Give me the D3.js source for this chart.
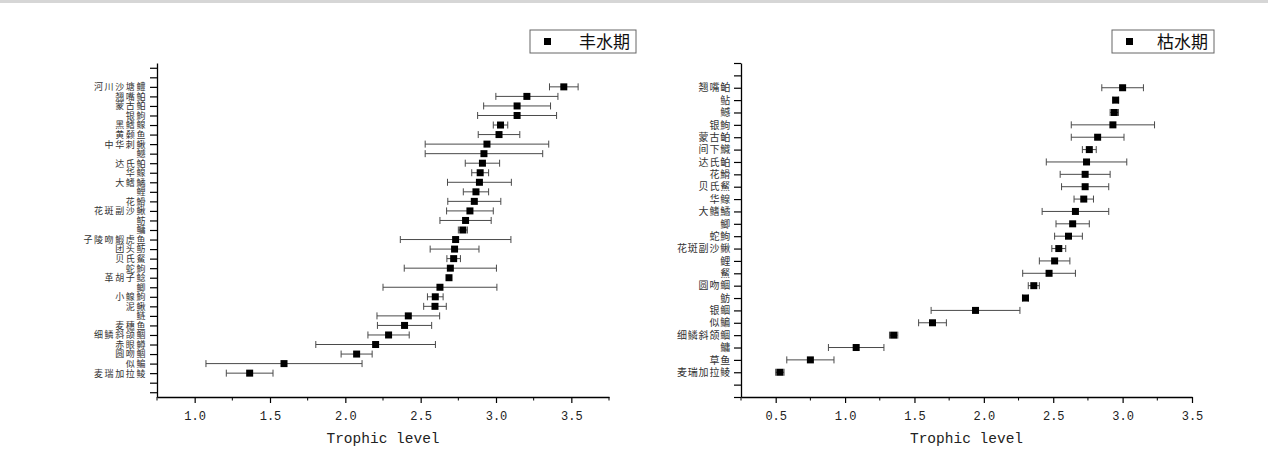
<!DOCTYPE html>
<html>
<head>
<meta charset="utf-8">
<script src="https://cdn.jsdelivr.net/npm/d3@7"></script>
<style>
  body { margin: 0; background: #fff; }
  svg { display: block; }
</style>
</head>
<body>
<svg id="chart" width="1268" height="470"></svg>
<script>
// wet season (丰水期), top to bottom
const wetSpecies = ["河川沙塘鳢","翘嘴鲌","蒙古鲌","银鮈","黑鳍鳈","黄颡鱼","中华刺鳅","鳡","达氏鲌","华鳈","大鳍鱊","鲤","花䱻","花斑副沙鳅","鲂","鳙","子陵吻鰕虎鱼","团头鲂","贝氏䱗","蛇鮈","革胡子鲶","鲫","小鳈鮈","泥鳅","鲢","麦穗鱼","细鳞斜颌鲴","赤眼鳟","圆吻鲴","似鳊","麦瑞加拉鲮"];
const wetMean = [3.45,3.205,3.14,3.14,3.03,3.02,2.94,2.92,2.91,2.895,2.89,2.867,2.856,2.827,2.798,2.78,2.732,2.725,2.719,2.697,2.688,2.628,2.597,2.595,2.418,2.393,2.287,2.201,2.075,1.593,1.365];
const wetErr  = [0.095,0.206,0.222,0.262,0.048,0.138,0.41,0.39,0.114,0.056,0.212,0.084,0.176,0.155,0.17,0.03,0.367,0.162,0.045,0.306,0,0.378,0.052,0.075,0.208,0.18,0.137,0.397,0.103,0.518,0.155];

// dry season (枯水期), top to bottom
const drySpecies = ["翘嘴鲌","鲇","鳡","银鮈","蒙古鲌","间下鱵","达氏鲌","花䱻","贝氏䱗","华鳈","大鳍鱊","鲫","蛇鮈","花斑副沙鳅","鲤","䱗","圆吻鲴","鲂","银鲴","似鳊","细鳞斜颌鲴","鳙","草鱼","麦瑞加拉鲮"];
const dryMean = [3.0,2.95,2.94,2.93,2.82,2.76,2.74,2.73,2.73,2.72,2.66,2.64,2.61,2.54,2.51,2.47,2.36,2.30,1.94,1.63,1.35,1.08,0.75,0.53];
const dryErr  = [0.15,0.02,0.03,0.30,0.19,0.05,0.29,0.18,0.17,0.07,0.24,0.12,0.10,0.05,0.11,0.19,0.04,0.02,0.32,0.10,0.03,0.20,0.17,0.03];

const xTicks = [0.5,1.0,1.5,2.0,2.5,3.0,3.5];
const legendNames = ["丰水期","枯水期"];

const svg = d3.select("#chart");
const cjk = "'Noto Sans CJK SC', sans-serif";
const mono = "'Liberation Mono', 'DejaVu Sans Mono', monospace";

// thin grey strip at the top like the screenshot frame
svg.append("rect").attr("x",0).attr("y",0).attr("width",1268).attr("height",3).attr("fill","#d6d6d6");

function drawPanel(opt){
  const g = svg.append("g");
  const n = opt.species.length;

  const x = d3.scaleLinear().domain(opt.xDomain).range([opt.left, opt.right]);
  const y = d3.scaleLinear().domain(opt.yDomain).range([opt.bottom, opt.top]);

  // index 1 = bottom species, n = top species
  const rows = opt.species.map((s,i) => ({name:s, mean:opt.mean[i], err:opt.err[i], idx:n-i}));

  // x axis, major + minor ticks
  const majors = xTicks.filter(t => t >= opt.xDomain[0] && t <= opt.xDomain[1]);
  const minors = d3.range(opt.xDomain[0], opt.xDomain[1]+0.001, 0.25).filter(t => !majors.some(m => Math.abs(m-t) < 1e-6));

  const xAxis = g.append("g").attr("transform", `translate(0,${opt.bottom})`)
    .call(d3.axisBottom(x).tickValues(majors).tickSize(6).tickSizeOuter(0).tickPadding(8).tickFormat(d3.format(".1f")));
  xAxis.select(".domain").attr("stroke","#000").attr("stroke-width",1.3);
  xAxis.selectAll("text").attr("font-family", mono).attr("font-size", 12).attr("fill","#222");
  xAxis.selectAll(".tick line").attr("stroke","#000").attr("stroke-width",1.2);

  g.append("g").attr("transform", `translate(0,${opt.bottom})`)
    .selectAll("line").data(minors).join("line")
    .attr("x1", d => x(d)).attr("x2", d => x(d)).attr("y1", 0).attr("y2", 3.5)
    .attr("stroke","#000").attr("stroke-width",1);

  // y axis: ticks at each integer position, labels only for species
  const yTicks = d3.range(Math.ceil(opt.yDomain[0]), Math.floor(opt.yDomain[1])+1);
  const labelOf = {};
  rows.forEach(r => labelOf[r.idx] = r.name);
  const yAxis = g.append("g").attr("transform", `translate(${opt.left},0)`)
    .call(d3.axisLeft(y).tickValues(yTicks).tickSize(7).tickSizeOuter(0).tickPadding(3).tickFormat(d => labelOf[d] || ""));
  yAxis.select(".domain").attr("stroke","#000").attr("stroke-width",1.3);
  yAxis.selectAll(".tick line").attr("stroke","#000").attr("stroke-width",1.2);
  yAxis.selectAll("text").attr("font-family", cjk).attr("font-size", opt.labelSize)
    .attr("letter-spacing", opt.labelSpacing).attr("fill","#333");

  // axis title
  g.append("text")
    .attr("x", (opt.left+opt.right)/2).attr("y", opt.bottom+46)
    .attr("text-anchor","middle").attr("font-family", mono).attr("font-size", 14.5).attr("fill","#222")
    .text("Trophic level");

  // error bars
  const eb = g.append("g").selectAll("g").data(rows.filter(r => r.err > 0)).join("g")
    .attr("stroke","#4a4a4a").attr("stroke-width",1);
  eb.append("line")
    .attr("x1", d => x(d.mean-d.err)).attr("x2", d => x(d.mean+d.err))
    .attr("y1", d => y(d.idx)).attr("y2", d => y(d.idx));
  eb.append("line")
    .attr("x1", d => x(d.mean-d.err)).attr("x2", d => x(d.mean-d.err))
    .attr("y1", d => y(d.idx)-3.5).attr("y2", d => y(d.idx)+3.5);
  eb.append("line")
    .attr("x1", d => x(d.mean+d.err)).attr("x2", d => x(d.mean+d.err))
    .attr("y1", d => y(d.idx)-3.5).attr("y2", d => y(d.idx)+3.5);

  // square markers
  const s = 7;
  g.append("g").selectAll("rect").data(rows).join("rect")
    .attr("x", d => x(d.mean)-s/2).attr("y", d => y(d.idx)-s/2)
    .attr("width", s).attr("height", s).attr("fill","#000");

  // legend
  const lg = g.append("g").attr("transform", `translate(${opt.legendX},30)`);
  lg.append("rect").attr("x",0).attr("y",0).attr("width",opt.legendW).attr("height",23)
    .attr("fill","#fff").attr("stroke","#666").attr("stroke-width",1);
  lg.append("rect").attr("x",14).attr("y",8).attr("width",7).attr("height",7).attr("fill","#000");
  lg.append("text").attr("x",opt.legendW-6).attr("y",18).attr("text-anchor","end")
    .attr("font-family", cjk).attr("font-size",17).attr("fill","#111").text(opt.legendName);
}

drawPanel({
  species: wetSpecies, mean: wetMean, err: wetErr,
  xDomain: [0.75, 3.75], yDomain: [-1.5, 33.5],
  left: 157, right: 609, top: 63, bottom: 397,
  labelSize: 9, labelSpacing: 1.6,
  legendX: 530, legendW: 106, legendName: legendNames[0]
});

drawPanel({
  species: drySpecies, mean: dryMean, err: dryErr,
  xDomain: [0.25, 3.5], yDomain: [-1, 26],
  left: 741, right: 1192, top: 63, bottom: 397,
  labelSize: 10, labelSpacing: 0.8,
  legendX: 1112, legendW: 102, legendName: legendNames[1]
});
</script>
</body>
</html>
